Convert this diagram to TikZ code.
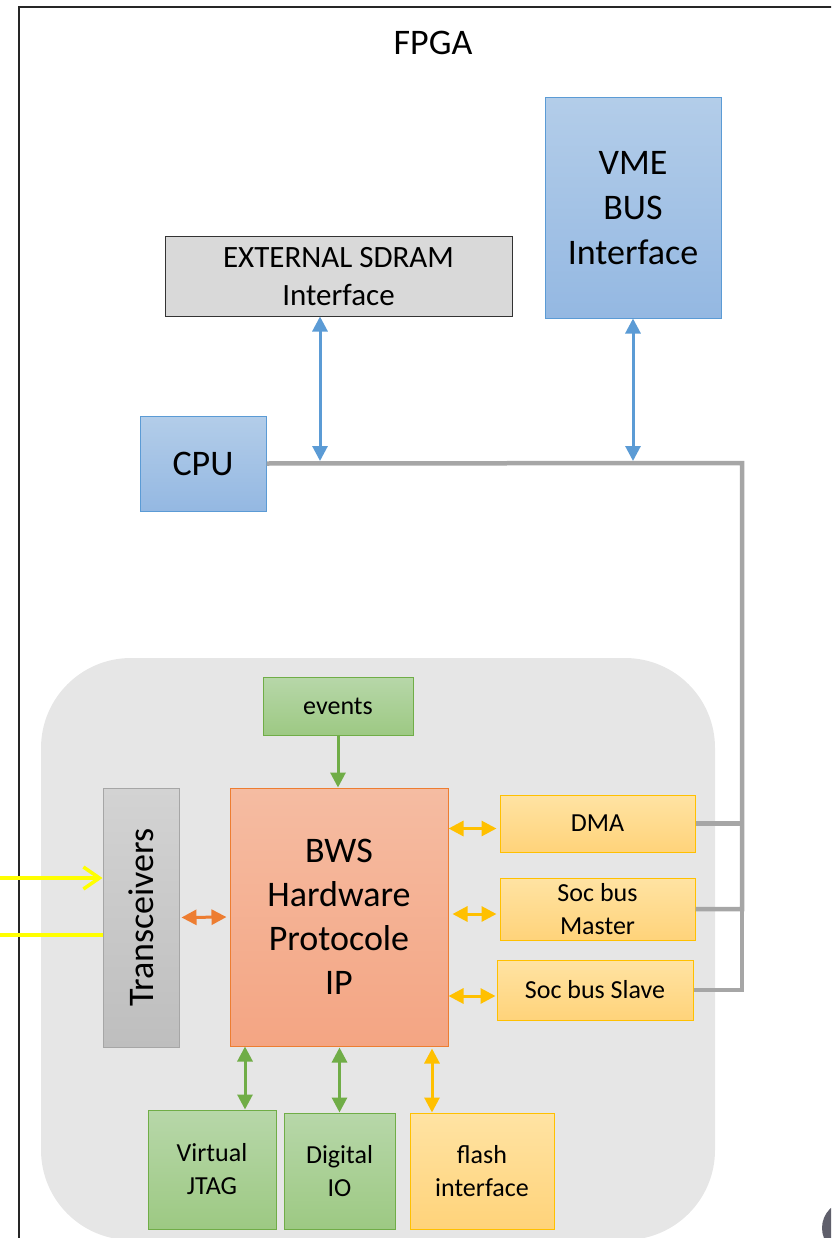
\documentclass[tikz,border=0pt]{standalone}
\usepackage{fontspec}
\setmainfont{Carlito}
\usetikzlibrary{arrows.meta}

\definecolor{bluetop}{HTML}{B3CDE9}
\definecolor{bluebot}{HTML}{94B8E2}
\definecolor{blueline}{HTML}{5B9BD5}
\definecolor{greentop}{HTML}{B7D7A9}
\definecolor{greenbot}{HTML}{9DC983}
\definecolor{greenline}{HTML}{70AD47}
\definecolor{salmontop}{HTML}{F5BCA2}
\definecolor{salmonbot}{HTML}{F4A583}
\definecolor{orangeline}{HTML}{ED7D31}
\definecolor{yellowtop}{HTML}{FFE3A3}
\definecolor{yellowbot}{HTML}{FFD37A}
\definecolor{yellowline}{HTML}{FFC000}
\definecolor{transtop}{HTML}{D3D3D3}
\definecolor{transbot}{HTML}{BEBEBE}
\definecolor{transline}{HTML}{A6A6A6}
\definecolor{sdramfill}{HTML}{D9D9D9}
\definecolor{busgrey}{HTML}{A6A6A6}
\definecolor{regiongrey}{HTML}{E6E6E6}
\definecolor{inyellow}{HTML}{FFFF00}
\definecolor{darkdot}{HTML}{5F5F6B}

\begin{document}
\begin{tikzpicture}[x=1pt,y=-1pt,>={Triangle[length=15pt,width=15pt]},line width=3pt,
    box/.style={rectangle,draw,line width=1pt,inner sep=0pt,align=center,text=black},
    blue node/.style={box,draw=blueline,top color=bluetop,bottom color=bluebot,font=\fontsize{36}{45}\selectfont},
    green node/.style={box,draw=greenline,top color=greentop,bottom color=greenbot,font=\fontsize{26}{33}\selectfont},
    yellow node/.style={box,draw=yellowline,top color=yellowtop,bottom color=yellowbot,font=\fontsize{26}{33}\selectfont},
    bus line/.style={draw=busgrey,line width=4.5pt}]

    \useasboundingbox (0,0) rectangle (831,1238);
    \clip (0,0) rectangle (831,1238);

    % FPGA frame and the IP region
    \draw[line width=2.5pt,black!85] (19,1260) -- (19,7) -- (860,7);
    \fill[regiongrey,rounded corners=90pt] (41,658) rectangle (715,1240);
    \fill[darkdot] (849,1228) circle (27pt);
    \node (fpga) at (433,43) [font=\fontsize{36}{44}\selectfont]{FPGA};

    % upper part
    \node[blue node, minimum width=176pt, minimum height=220pt] (vme) at (633,208) {VME\\BUS\\Interface};
    \node[box, draw=black!80, fill=sdramfill, minimum width=347pt, minimum height=79pt,
          font=\fontsize{31}{38}\selectfont] (sdram) at (338.5,276.5) {EXTERNAL SDRAM\\Interface};
    \node[blue node, minimum width=126pt, minimum height=95pt] (cpu) at (203,463.5) {CPU};

    % lower part
    \node[green node, minimum width=150pt, minimum height=58pt] (events) at (338,706) {events};
    \node[box, draw=orangeline, top color=salmontop, bottom color=salmonbot, minimum width=218pt, minimum height=258pt,
          font=\fontsize{36}{44}\selectfont] (bws) at (339,917) {BWS\\Hardware\\Protocole\\IP};
    \node[box, draw=transline, top color=transtop, bottom color=transbot, minimum width=76pt, minimum height=259pt,
          font=\fontsize{36}{44}\selectfont] (trans) at (141,917.5) {\rotatebox{90}{Transceivers}};
    \node[yellow node, minimum width=195pt, minimum height=57pt] (dma) at (597.5,823.5) {DMA};
    \node[yellow node, minimum width=195pt, minimum height=62pt] (master) at (597.5,909) {Soc bus\\Master};
    \node[yellow node, minimum width=196pt, minimum height=60pt] (slave) at (595,990) {Soc bus Slave};
    \node[green node, minimum width=128pt, minimum height=119pt] (jtag) at (212,1169.5) {Virtual\\JTAG};
    \node[green node, minimum width=111pt, minimum height=116pt] (dio) at (339.5,1171) {Digital\\IO};
    \node[yellow node, minimum width=144pt, minimum height=116pt] (flash) at (482,1171) {flash\\interface};

    % bus
    \coordinate (tap1) at (320,461);
    \coordinate (tap2) at (633,461);
    \coordinate (corner) at (742,463);
    \draw[bus line] (cpu.east) -- (corner) |- (master.east);
    \draw[bus line] (dma.east) -- (dma.east -| corner);
    \draw[bus line] (slave.east) -| (master.east -| corner);

    \draw[<->, blueline] (sdram.south -| tap1) -- (tap1);
    \draw[<->, blueline] (vme.south) -- (tap2);

    \draw[->, greenline] (events.south) -- (events.south |- bws.north);
    \draw[<->, orangeline, shorten <=2pt, shorten >=3pt] (trans.east) -- (bws.west);
    \draw[<->, yellowline, shorten >=3pt] ([yshift=-5pt]bws.east |- dma.west) -- ([yshift=-5pt]dma.west);
    \draw[<->, yellowline, shorten <=4pt, shorten >=3pt] ([yshift=-5pt]bws.east |- master.west) -- ([yshift=-5pt]master.west);
    \draw[<->, yellowline, shorten >=1pt] ([yshift=-6pt]bws.east |- slave.west) -- ([yshift=-6pt]slave.west);

    \draw[<->, greenline] ([xshift=33pt]jtag.north |- bws.south) -- ([xshift=33pt]jtag.north);
    \draw[<->, greenline, shorten <=1pt] (dio.north |- bws.south) -- (dio.north);
    \draw[<->, yellowline, shorten <=2pt] ([xshift=-50pt]flash.north |- bws.south) -- ([xshift=-50pt]flash.north);

    % incoming links
    \coordinate (in1) at (0,878);
    \coordinate (in2) at (0,935);
    \draw[inyellow, line width=3.5pt, -{Straight Barb[length=16pt,width=22pt]}] (in1) -- (in1 -| trans.west);
    \draw[inyellow, line width=3.5pt] (in2) -- (in2 -| trans.west);
\end{tikzpicture}
\end{document}
